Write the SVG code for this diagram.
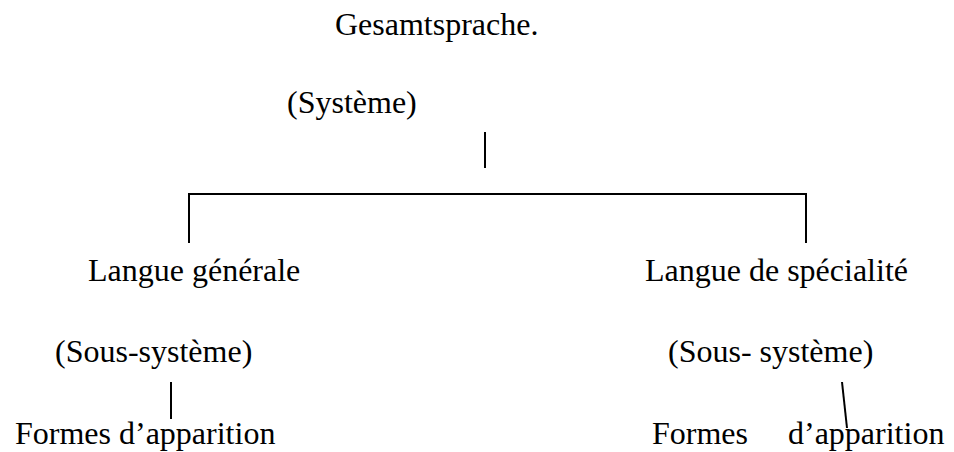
<svg xmlns="http://www.w3.org/2000/svg" width="954" height="452" viewBox="0 0 954 452">
  <style>
    .lbl { font-family: "Liberation Serif", "Times New Roman", serif; font-size: 32px; fill: #000; }
    .conn { stroke: #000; stroke-width: 2; fill: none; }
  </style>
  <rect width="954" height="452" fill="#fff"/>

  <g id="gesamtsprache">
    <text class="lbl" x="335" y="35">Gesamtsprache.</text>
  </g>
  <g id="systeme">
    <text class="lbl" x="287" y="113">(Système)</text>
  </g>
  <g id="langue-generale">
    <text class="lbl" x="88" y="281">Langue générale</text>
    <text class="lbl" x="55" y="362">(Sous-système)</text>
  </g>
  <g id="formes-generale">
    <text class="lbl" x="15" y="444">Formes d’apparition</text>
  </g>
  <g id="langue-specialite">
    <text class="lbl" x="645" y="281">Langue de spécialité</text>
    <text class="lbl" x="668" y="362">(Sous- système)</text>
  </g>
  <g id="formes-specialite">
    <text class="lbl" x="652" y="444">Formes</text>
    <text class="lbl" x="788" y="444">d’apparition</text>
  </g>

  <g id="connectors">
    <line class="conn" x1="485" y1="132" x2="485" y2="168"/>
    <polyline class="conn" points="189,243 189,194 806,194 806,243"/>
    <line class="conn" x1="171" y1="382" x2="171" y2="419"/>
    <line class="conn" x1="842" y1="382" x2="847" y2="428"/>
  </g>
</svg>
